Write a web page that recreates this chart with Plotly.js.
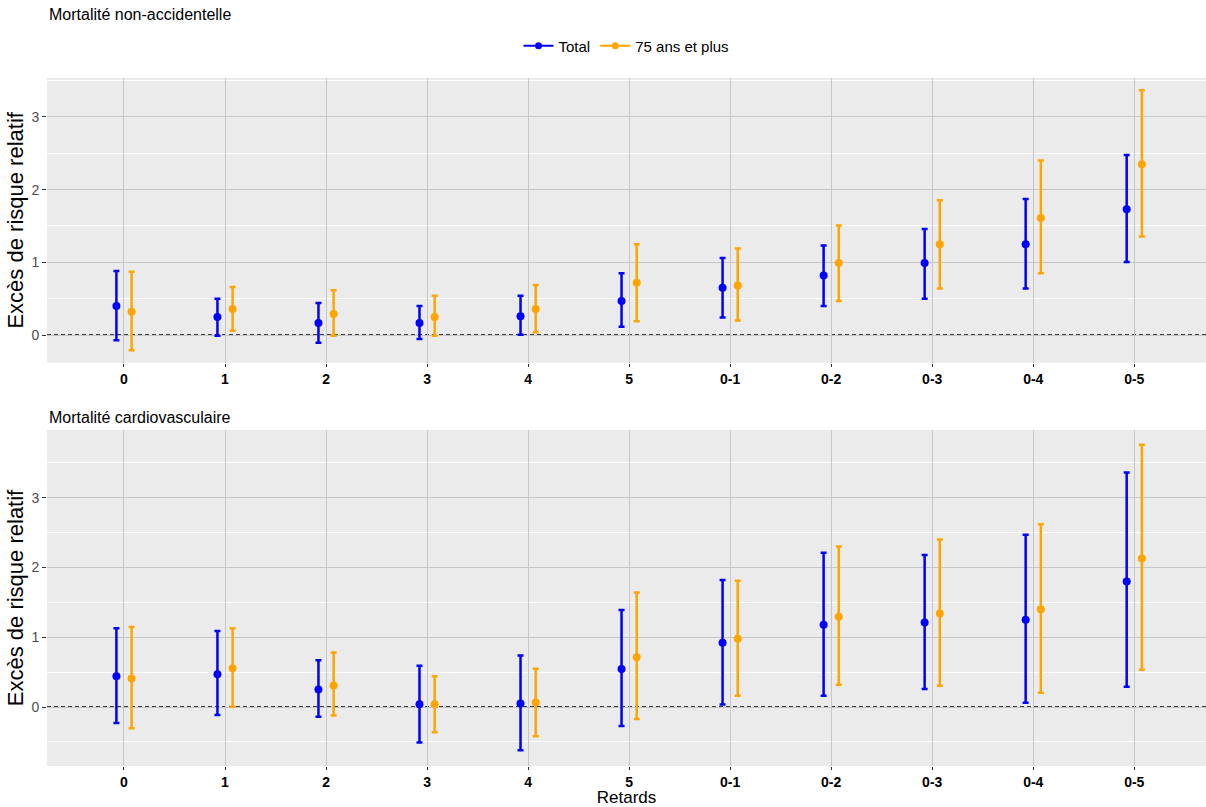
<!DOCTYPE html>
<html><head><meta charset="utf-8">
<script src="https://cdn.plot.ly/plotly-3.0.1.min.js"></script>
<style>body{margin:0;padding:0;background:#fff}#chart{width:1206px;height:807px}</style>
</head><body><div id="chart"></div>
<script>
const categories = ["0","1","2","3","4","5","0-1","0-2","0-3","0-4","0-5"];

// Mortalité non-accidentelle
const naTotal    = [0.40, 0.25, 0.165, 0.165, 0.26, 0.47, 0.65, 0.82, 0.99, 1.25, 1.73];
const naTotalLo  = [-0.07, -0.01, -0.105, -0.055, 0.005, 0.115, 0.24, 0.40, 0.50, 0.64, 1.005];
const naTotalHi  = [0.88, 0.50, 0.44, 0.40, 0.54, 0.85, 1.06, 1.23, 1.46, 1.87, 2.475];
const na75       = [0.32, 0.36, 0.29, 0.25, 0.36, 0.72, 0.68, 0.99, 1.25, 1.61, 2.35];
const na75Lo     = [-0.21, 0.06, -0.01, -0.01, 0.04, 0.19, 0.20, 0.47, 0.64, 0.85, 1.355];
const na75Hi     = [0.87, 0.66, 0.615, 0.54, 0.69, 1.25, 1.19, 1.505, 1.855, 2.40, 3.365];

// Mortalité cardiovasculaire
const cvTotal    = [0.44, 0.47, 0.25, 0.04, 0.05, 0.545, 0.92, 1.18, 1.21, 1.25, 1.80];
const cvTotalLo  = [-0.23, -0.115, -0.14, -0.51, -0.62, -0.27, 0.035, 0.16, 0.26, 0.06, 0.29];
const cvTotalHi  = [1.13, 1.09, 0.67, 0.59, 0.74, 1.39, 1.82, 2.21, 2.18, 2.47, 3.36];
const cv75       = [0.41, 0.555, 0.31, 0.04, 0.065, 0.715, 0.98, 1.295, 1.34, 1.40, 2.13];
const cv75Lo     = [-0.305, 0.005, -0.12, -0.36, -0.42, -0.17, 0.16, 0.32, 0.305, 0.205, 0.535];
const cv75Hi     = [1.146, 1.13, 0.78, 0.44, 0.55, 1.64, 1.81, 2.30, 2.40, 2.62, 3.76];

const seriesNames = ["Total", "75 ans et plus"];
const panelTitles = ["Mortalité non-accidentelle", "Mortalité cardiovasculaire"];
const colors = ["#0000FF", "#FFA500"];
const dodge = 0.075;

function errTrace(vals, lo, hi, color, name, off, xa, ya) {
  return {
    x: categories.map((c, i) => i + off),
    y: vals,
    type: 'scatter', mode: 'markers',
    name: name, showlegend: false,
    xaxis: xa, yaxis: ya,
    marker: {color: color, size: 8},
    error_y: {type: 'data', symmetric: false,
      array: vals.map((v, i) => hi[i] - v),
      arrayminus: vals.map((v, i) => v - lo[i]),
      color: color, thickness: 2.5, width: 3}
  };
}

const data = [
  errTrace(naTotal, naTotalLo, naTotalHi, colors[0], seriesNames[0], -dodge, 'x', 'y'),
  errTrace(na75, na75Lo, na75Hi, colors[1], seriesNames[1], dodge, 'x', 'y'),
  errTrace(cvTotal, cvTotalLo, cvTotalHi, colors[0], seriesNames[0], -dodge, 'x2', 'y2'),
  errTrace(cv75, cv75Lo, cv75Hi, colors[1], seriesNames[1], dodge, 'x2', 'y2'),
  {x: [null], y: [null], type: 'scatter', mode: 'lines+markers', name: seriesNames[0],
   line: {color: colors[0], width: 2}, marker: {color: colors[0], size: 7}, xaxis: 'x', yaxis: 'y'},
  {x: [null], y: [null], type: 'scatter', mode: 'lines+markers', name: seriesNames[1],
   line: {color: colors[1], width: 2}, marker: {color: colors[1], size: 7}, xaxis: 'x', yaxis: 'y'}
];

const font = "Liberation Sans, Arial, sans-serif";
const gridGrey = "#c6c6c6";

function xAxis(anchor, withTitle) {
  const ax = {
    anchor: anchor,
    range: [-0.762, 10.71],
    tickmode: 'array',
    tickvals: categories.map((c, i) => i),
    ticktext: categories,
    tickfont: {family: font, size: 14, color: '#000', weight: 'bold'},
    showgrid: true, gridcolor: gridGrey, gridwidth: 1,
    zeroline: false, showline: false,
    ticks: 'outside', ticklen: 3, tickcolor: '#333',
    fixedrange: true
  };
  if (withTitle) ax.title = {text: 'Retards', font: {family: font, size: 17, color: '#000'}, standoff: 3};
  return ax;
}

function yAxis(domain, range, anchor) {
  return {
    domain: domain, anchor: anchor, range: range,
    tickvals: [0, 1, 2, 3],
    tickfont: {family: font, size: 14, color: '#4d4d4d'},
    showgrid: true, gridcolor: gridGrey, gridwidth: 1,
    minor: {tickvals: [-0.5, 0.5, 1.5, 2.5, 3.5], showgrid: true, gridcolor: '#ffffff', gridwidth: 1, ticks: ''},
    zeroline: false, showline: false,
    ticks: 'outside', ticklen: 4, tickcolor: '#333',
    title: {text: 'Excès de risque relatif', font: {family: font, size: 22, color: '#000'}, standoff: 1},
    fixedrange: true
  };
}

const H = 807, mt = 78, mb = 41, ph = H - mt - mb;
function paperY(px) { return (H - mb - px) / ph; }

const layout = {
  width: 1206, height: H,
  margin: {l: 47, r: 0, t: mt, b: mb},
  paper_bgcolor: '#ffffff',
  plot_bgcolor: '#ebebeb',
  font: {family: font},
  showlegend: true,
  legend: {orientation: 'h', x: 0.5, xanchor: 'center', y: paperY(46), yanchor: 'middle',
           font: {family: font, size: 15, color: '#000'}, bgcolor: 'rgba(0,0,0,0)',
           itemwidth: 30},
  xaxis: xAxis('y', false),
  yaxis: yAxis([paperY(362.7), 1.0], [-0.38, 3.535], 'x'),
  xaxis2: xAxis('y2', true),
  yaxis2: yAxis([0, paperY(430)], [-0.845, 3.97], 'x2'),
  shapes: [
    {type: 'line', xref: 'paper', x0: 0, x1: 1, yref: 'y', y0: 0, y1: 0,
     line: {color: '#000', width: 1.5, dash: '4px,3px'}, layer: 'between'},
    {type: 'line', xref: 'paper', x0: 0, x1: 1, yref: 'y2', y0: 0, y1: 0,
     line: {color: '#000', width: 1.5, dash: '4px,3px'}, layer: 'between'}
  ],
  annotations: [
    {text: panelTitles[0], xref: 'paper', yref: 'paper', x: 0, y: paperY(14),
     xanchor: 'left', yanchor: 'middle', showarrow: false, font: {family: font, size: 16, color: '#000'}},
    {text: panelTitles[1], xref: 'paper', yref: 'paper', x: 0, y: paperY(417),
     xanchor: 'left', yanchor: 'middle', showarrow: false, font: {family: font, size: 16, color: '#000'}}
  ]
};

Plotly.newPlot('chart', data, layout, {displayModeBar: false, staticPlot: true});
</script>
</body></html>
